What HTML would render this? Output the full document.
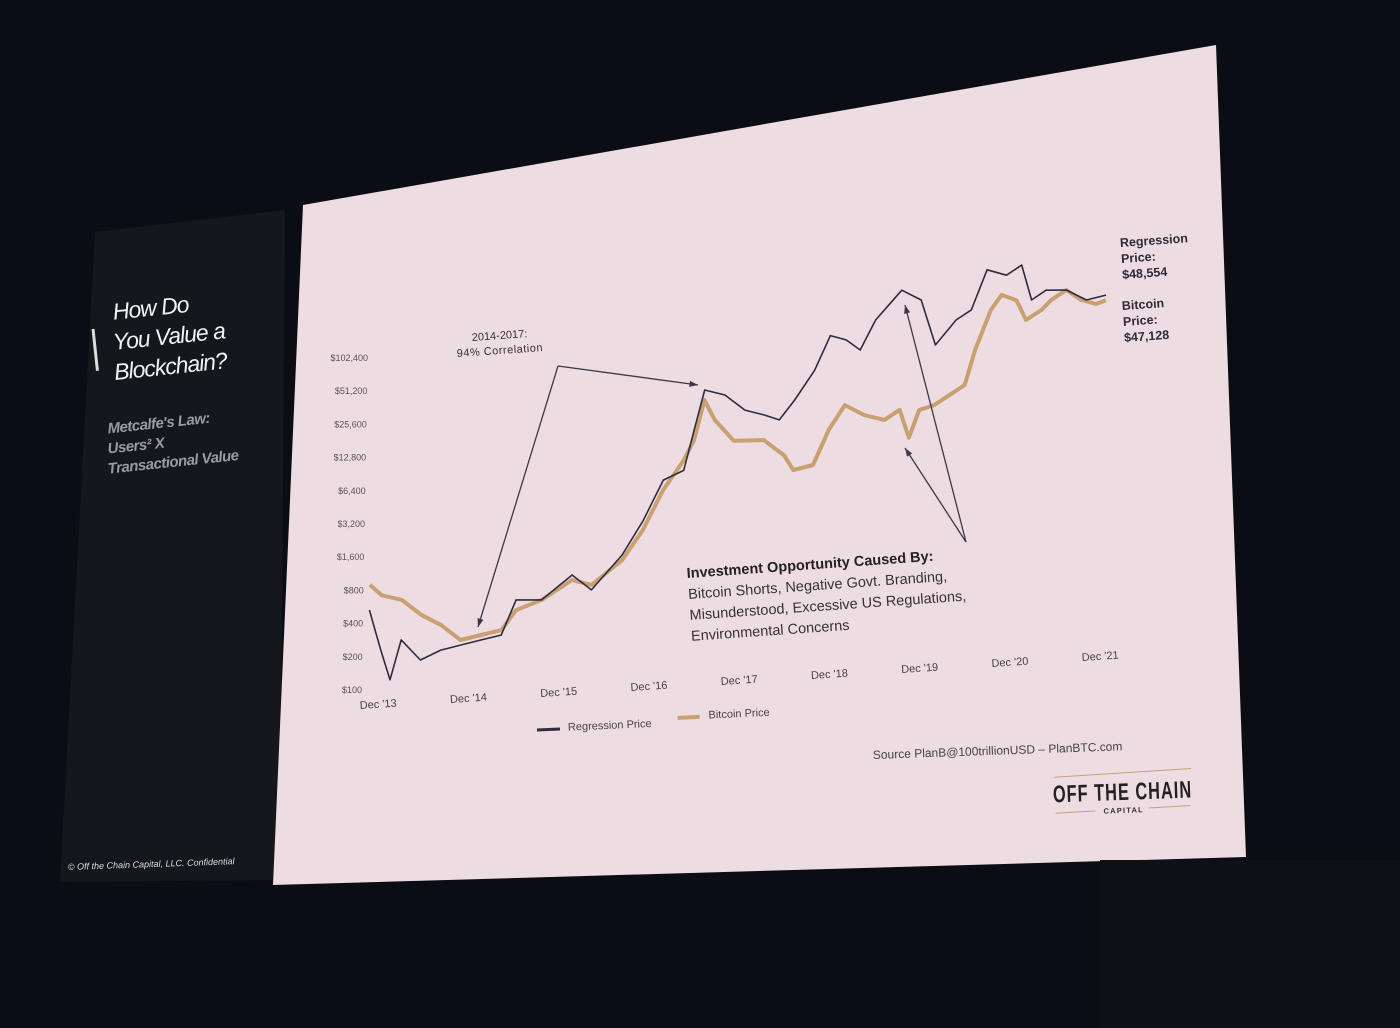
<!DOCTYPE html>
<html><head><meta charset="utf-8">
<style>
html,body{margin:0;padding:0;background:#0b0d14;}
svg{display:block;}
text{font-family:"Liberation Sans",sans-serif;}
</style></head>
<body>
<svg id="root" width="1400" height="1028" viewBox="0 0 1400 1028">
  <rect x="0" y="0" width="1400" height="1028" fill="#0b0d14"/>
  <polygon points="95,232 285,210 280,880 60,882" fill="#15171d"/>
  <polygon points="303,205 1216,45 1246,857 273,885" fill="#eedce3"/>
  <rect x="1100" y="860" width="300" height="168" fill="#0e1016"/>
  <g transform="rotate(-6 160 330)" fill="#f2f2f2">
    <rect x="92" y="322" width="3" height="42" fill="#ddd"/>
    <text x="115" y="315" font-size="23" font-style="italic" letter-spacing="-1">How Do</text>
    <text x="112" y="345" font-size="23" font-style="italic" letter-spacing="-1">You Value a</text>
    <text x="110" y="375" font-size="23" font-style="italic" letter-spacing="-1">Blockchain?</text>
  </g>
  <g transform="rotate(-6 160 430)" fill="#9a9aa2" font-weight="bold">
    <text x="108" y="428" font-size="15" font-style="italic" letter-spacing="-0.5">Metcalfe's Law:</text>
    <text x="106" y="448" font-size="15" font-style="italic" letter-spacing="-0.5">Users² X</text>
    <text x="104" y="468" font-size="15" font-style="italic" letter-spacing="-0.5">Transactional Value</text>
  </g>
  <text x="68" y="870" font-size="9" fill="#ddd" font-style="italic" transform="rotate(-2 68 870)">© Off the Chain Capital, LLC. Confidential</text>

  <g id="chart"></g>

  <text x="472" y="341" font-size="11" fill="#333" transform="rotate(-4 472 341)">2014-2017:</text>
  <text x="457" y="357" font-size="11" fill="#333" letter-spacing="0.5" transform="rotate(-4 457 357)">94% Correlation</text>

  <g transform="rotate(-4 687 578)">
    <text x="687" y="578" font-size="14.5" font-weight="bold" fill="#222">Investment Opportunity Caused By:</text>
    <text x="687" y="599" font-size="14.5" fill="#333">Bitcoin Shorts, Negative Govt. Branding,</text>
    <text x="687" y="620" font-size="14.5" fill="#333">Misunderstood, Excessive US Regulations,</text>
    <text x="687" y="641" font-size="14.5" fill="#333">Environmental  Concerns</text>
  </g>

  <g transform="rotate(-4 1120 244)" fill="#2b2b3a" font-size="12.5" font-weight="bold">
    <text x="1120" y="247">Regression</text>
    <text x="1120" y="263">Price:</text>
    <text x="1120" y="279">$48,554</text>
  </g>
  <g transform="rotate(-4 1122 308)" fill="#2b2b3a" font-size="12.5" font-weight="bold">
    <text x="1122" y="310">Bitcoin</text>
    <text x="1122" y="326">Price:</text>
    <text x="1122" y="342">$47,128</text>
  </g>

  <g transform="rotate(-2.5 537 730)">
    <line x1="537" y1="730" x2="560" y2="730" stroke="#2d2d40" stroke-width="3"/>
    <text x="568" y="732" font-size="11" fill="#444">Regression Price</text>
    <line x1="678" y1="724" x2="700" y2="724" stroke="#c9a070" stroke-width="4"/>
    <text x="709" y="726" font-size="11" fill="#444">Bitcoin Price</text>
  </g>

  <text x="873" y="759" font-size="12" fill="#444" transform="rotate(-2 873 759)">Source  PlanB@100trillionUSD – PlanBTC.com</text>
  <g transform="rotate(-2 1120 795)">
    <line x1="1055" y1="775" x2="1192" y2="771" stroke="#c9a070" stroke-width="1"/>
    <g transform="translate(1053 800) scale(0.68 1)">
      <text x="0" y="0" font-size="24" font-weight="bold" fill="#222" letter-spacing="1.5">OFF THE CHAIN</text>
    </g>
    <line x1="1055" y1="811" x2="1095" y2="810" stroke="#c9a070" stroke-width="1"/>
    <text x="1103" y="813" font-size="7.5" font-weight="bold" fill="#333" letter-spacing="1.2">CAPITAL</text>
    <line x1="1148" y1="809" x2="1190" y2="808" stroke="#c9a070" stroke-width="1"/>
  </g>
</svg>
<script>
// months since Dec 2013 and prices (USD)
const btcMonths = [0,1.6,4.3,6.9,9.6,12.2,14.9,17.6,19.5,22.9,26.9,29.5,33.5,36.2,38.8,41.5,42.8,44.1,45.5,48.1,52.1,54.8,56.1,58.7,60.7,62.8,65.4,68.1,70.1,71.4,72.7,74.7,76.7,78.7,80.0,82.0,83.4,85.4,86.7,88.7,90.0,92.0,94.0,96.0,97.3];
const btcPrices = [900,710,627,447,350,250,270,290,432,517,750,660,1060,1930,4340,7900,11800,26900,17500,11000,10700,7600,5500,5940,12100,19900,15700,13800,16700,9200,16200,17600,21200,25600,52600,118000,160000,140000,91600,110000,134000,162000,129000,116000,124000];
const regMonths = [0,1.6,2.9,4.3,6.9,9.6,12.2,14.9,17.6,19.5,22.9,26.9,29.5,33.5,36.2,38.8,41.5,42.8,44.1,46.8,49.5,52.1,54.1,56.1,58.7,60.7,62.8,64.7,66.7,70.1,72.7,74.7,77.4,79.4,81.4,84.0,86.0,87.4,89.3,92.0,94.7,97.3];
const regPrices = [531,227,120,272,174,208,225,243,262,535,517,834,594,1180,2340,5340,6360,14600,33100,29000,20600,18100,16000,23700,43000,86700,77600,61600,113000,203000,161000,61600,101000,122000,276000,240000,290000,138000,166000,162000,128000,138000];
const yTickValues = [100,200,400,800,1600,3200,6400,12800,25600,51200,102400];
const yTickLabels = ["$100","$200","$400","$800","$1,600","$3,200","$6,400","$12,800","$25,600","$51,200","$102,400"];
const xTickMonths = [0,12,24,36,48,60,72,84,96];
const xTickLabels = ["Dec '13","Dec '14","Dec '15","Dec '16","Dec '17","Dec '18","Dec '19","Dec '20","Dec '21"];

const NS = "http://www.w3.org/2000/svg";
const chart = document.getElementById('chart');
function sx(m, p){ const u=m/96, v=Math.log2(p/100)/10; return 368 + 722*u + 6*v; }
function sy(m, p){ const u=m/96, v=Math.log2(p/100)/10; return 690 - 48*u - 332*v; }

yTickValues.forEach((val,i)=>{
  const t = document.createElementNS(NS,'text');
  t.setAttribute('x', 362 + 6*Math.log2(val/100)/10);
  t.setAttribute('y', sy(0,val)+3);
  t.setAttribute('text-anchor','end');
  t.setAttribute('font-size','9');
  t.setAttribute('fill','#555');
  t.textContent = yTickLabels[i];
  
  
  chart.appendChild(t);
});
xTickMonths.forEach((m,i)=>{
  const x = sx(m,100)-8, y = sy(m,100)+19;
  const t = document.createElementNS(NS,'text');
  t.setAttribute('x', x);
  t.setAttribute('y', y);
  t.setAttribute('font-size','11');
  t.setAttribute('fill','#444');
  t.setAttribute('transform','rotate(-3.8 '+x+' '+y+')');
  t.textContent = xTickLabels[i];
  
  
  chart.appendChild(t);
});
function line(ms, ps, color, w, name){
  const pl = document.createElementNS(NS,'polyline');
  pl.setAttribute('points', ms.map((m,i)=>sx(m,ps[i]).toFixed(1)+','+sy(m,ps[i]).toFixed(1)).join(' '));
  pl.setAttribute('fill','none');
  pl.setAttribute('stroke',color);
  pl.setAttribute('stroke-width',w);
  pl.setAttribute('stroke-linejoin','round');
  
  
  chart.appendChild(pl);
}
line(btcMonths, btcPrices, '#c9a070', 4, 'bitcoin-price-line');
line(regMonths, regPrices, '#2d2d40', 1.6, 'regression-price-line');

function arrow(x1,y1,x2,y2,name){
  const g = document.createElementNS(NS,'g');
  
  
  const l = document.createElementNS(NS,'line');
  l.setAttribute('x1',x1);l.setAttribute('y1',y1);l.setAttribute('x2',x2);l.setAttribute('y2',y2);
  l.setAttribute('stroke','#3a3a4a');l.setAttribute('stroke-width','1.3');
  g.appendChild(l);
  const a = Math.atan2(y2-y1,x2-x1), s=9;
  const h = document.createElementNS(NS,'polygon');
  h.setAttribute('points', x2+','+y2+' '+(x2-s*Math.cos(a-0.35))+','+(y2-s*Math.sin(a-0.35))+' '+(x2-s*Math.cos(a+0.35))+','+(y2-s*Math.sin(a+0.35)));
  h.setAttribute('fill','#3a3a4a');
  g.appendChild(h);
  document.getElementById('root').appendChild(g);
}
arrow(558,366,478,627,'arrow-to-2014');
arrow(558,366,698,385,'arrow-to-2017');
arrow(966,542,905,305,'arrow-to-2019-peak');
arrow(966,542,905,448,'arrow-to-2019-dip');
</script>
</body></html>
